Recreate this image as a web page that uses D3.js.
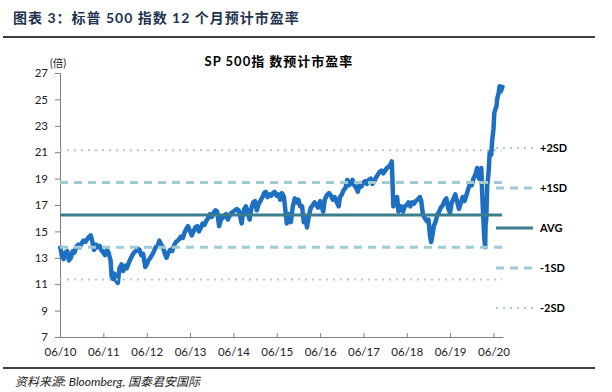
<!DOCTYPE html>
<html>
<head>
<meta charset="utf-8">
<script src="https://cdn.jsdelivr.net/npm/d3@7"></script>
<style>
  body { margin: 0; background: #fff; }
  svg { display: block; }
  text { font-family: Lato, "Noto Sans CJK SC", sans-serif; }
</style>
</head>
<body>
<div id="chart"></div>
<script>
// page texts
var pageTitle = "图表 3：标普 500 指数 12 个月预计市盈率";
var chartTitle = "SP 500指 数预计市盈率";
var unitLabel = "(倍)";
var sourceText = "资料来源: Bloomberg, 国泰君安国际";

// y ticks
var yTicks = [7, 9, 11, 13, 15, 17, 19, 21, 23, 25, 27];

// reference lines (avg and standard deviations)
var refNames = ["+2SD", "+1SD", "AVG", "-1SD", "-2SD"];
var refValues = [21.15, 18.7, 16.25, 13.8, 11.35];

// forward PE
var peDates = [
  "2010-06-01","2010-06-15","2010-07-01","2010-07-15","2010-08-01","2010-08-15","2010-09-01","2010-09-15","2010-10-01","2010-10-15","2010-11-01","2010-11-15","2010-12-01","2010-12-15",
  "2011-01-01","2011-01-15","2011-02-01","2011-02-15","2011-03-01","2011-03-15","2011-04-01","2011-04-15","2011-05-01","2011-05-15","2011-06-01","2011-06-15","2011-07-01","2011-07-15","2011-08-01","2011-08-10","2011-08-20","2011-09-01","2011-09-15","2011-10-01","2011-10-15","2011-11-01","2011-11-15","2011-12-01","2011-12-15",
  "2012-01-01","2012-01-15","2012-02-01","2012-02-15","2012-03-01","2012-03-15","2012-04-01","2012-04-15","2012-05-01","2012-05-20","2012-06-01","2012-06-15","2012-07-01","2012-07-15","2012-08-01","2012-08-15","2012-09-01","2012-09-15","2012-10-01","2012-10-15","2012-11-01","2012-11-15","2012-12-01","2012-12-15",
  "2013-01-01","2013-01-15","2013-02-01","2013-02-15","2013-03-01","2013-03-15","2013-04-01","2013-04-15","2013-05-01","2013-05-15","2013-06-01","2013-06-15","2013-07-01","2013-07-15","2013-08-01","2013-08-15","2013-09-01","2013-09-15","2013-10-01","2013-10-15","2013-11-01","2013-11-15","2013-12-01","2013-12-15",
  "2014-01-01","2014-01-15","2014-02-01","2014-02-10","2014-02-20","2014-03-01","2014-03-15","2014-04-01","2014-04-15","2014-05-01","2014-05-15","2014-06-01","2014-06-15","2014-07-01","2014-07-15","2014-08-01","2014-08-10","2014-08-20","2014-09-01","2014-09-15","2014-10-01","2014-10-15","2014-11-01","2014-11-15","2014-12-01","2014-12-15",
  "2015-01-01","2015-01-15","2015-02-01","2015-02-15","2015-03-01","2015-03-15","2015-04-01","2015-04-15","2015-05-01","2015-05-15","2015-06-01","2015-06-15","2015-07-01","2015-07-15","2015-08-01","2015-08-25","2015-09-01","2015-09-15","2015-09-28","2015-10-15","2015-11-01","2015-11-15","2015-12-01","2015-12-15",
  "2016-01-01","2016-01-15","2016-02-01","2016-02-11","2016-02-20","2016-03-01","2016-03-15","2016-04-01","2016-04-15","2016-05-01","2016-05-15","2016-06-01","2016-06-27","2016-07-10","2016-07-25","2016-08-01","2016-08-15","2016-09-01","2016-09-15","2016-10-01","2016-10-15","2016-11-04","2016-11-15","2016-12-01","2016-12-15",
  "2017-01-01","2017-01-15","2017-02-01","2017-02-15","2017-03-01","2017-03-15","2017-04-01","2017-04-15","2017-05-01","2017-05-15","2017-06-01","2017-06-15","2017-07-01","2017-07-15","2017-08-01","2017-08-15","2017-09-01","2017-09-15","2017-10-01","2017-10-15","2017-11-01","2017-11-15","2017-12-01","2017-12-15",
  "2018-01-01","2018-01-15","2018-01-26","2018-02-08","2018-02-15","2018-03-01","2018-03-12","2018-03-23","2018-04-01","2018-04-15","2018-05-01","2018-05-15","2018-06-01","2018-06-15","2018-07-01","2018-07-15","2018-08-01","2018-08-15","2018-09-01","2018-09-20","2018-10-01","2018-10-15","2018-11-01","2018-11-15","2018-12-01","2018-12-15","2018-12-24",
  "2019-01-01","2019-01-15","2019-02-01","2019-02-15","2019-03-01","2019-03-15","2019-04-01","2019-04-15","2019-05-01","2019-05-15","2019-06-01","2019-06-15","2019-07-01","2019-07-15","2019-08-01","2019-08-15","2019-09-01","2019-09-15","2019-10-01","2019-10-15","2019-11-01","2019-11-15","2019-12-01","2019-12-15",
  "2020-01-01","2020-01-15","2020-01-31","2020-02-10","2020-02-19","2020-02-28","2020-03-09","2020-03-16","2020-03-23","2020-03-26","2020-04-01","2020-04-09","2020-04-20","2020-04-30","2020-05-13","2020-05-20","2020-06-01","2020-06-08","2020-06-15","2020-06-26","2020-07-01","2020-07-15","2020-07-22","2020-07-31","2020-08-10","2020-08-18"
];
var peValues = [
  13.9,13.2,12.9,13.4,13.5,12.8,13.0,13.5,13.4,13.8,14.0,13.8,14.1,14.3,
  14.2,14.4,14.6,14.7,14.2,13.6,14.0,13.8,13.9,13.6,13.4,13.2,13.6,13.4,12.8,11.6,11.4,11.8,11.3,11.1,12.2,12.5,12.0,12.4,12.2,
  12.6,12.9,13.2,13.4,13.5,13.7,13.6,13.2,13.3,12.3,12.5,12.8,13.0,13.2,13.5,13.8,13.9,14.3,14.0,13.8,13.3,13.0,13.4,13.6,
  13.5,13.9,14.2,14.3,14.4,14.6,14.5,14.9,15.2,15.4,15.0,14.7,15.0,15.3,15.4,15.0,15.3,15.6,15.5,15.8,16.0,16.3,16.1,16.4,
  16.6,16.5,15.4,15.7,16.1,16.0,16.2,16.3,15.9,16.2,16.4,16.5,16.6,16.7,16.6,16.0,15.6,16.3,16.7,16.9,16.4,15.9,16.8,17.2,17.3,16.6,
  17.1,17.3,17.6,17.9,18.0,17.6,17.8,17.7,17.9,18.0,17.7,17.8,17.4,17.9,17.6,15.6,16.1,16.3,15.7,16.9,17.5,17.2,17.4,16.9,
  16.9,15.7,16.0,15.3,15.8,16.3,16.8,17.0,17.2,17.0,16.8,17.3,16.5,17.4,17.7,17.8,17.9,17.7,17.4,17.6,17.3,16.9,17.6,17.8,18.1,
  18.3,18.9,18.5,18.7,18.9,18.5,18.3,18.0,18.6,18.4,18.7,18.8,18.6,18.9,19.0,18.6,18.8,19.1,19.3,19.5,19.6,19.4,19.6,19.8,
  19.9,20.1,20.3,16.9,17.3,17.1,17.6,16.5,16.7,16.9,16.5,16.9,17.0,17.2,16.9,17.2,17.1,17.3,17.4,17.6,17.3,16.3,16.0,15.8,15.9,14.6,14.2,
  14.6,15.4,15.8,16.3,16.5,16.8,17.0,17.3,17.5,16.8,16.4,17.2,17.5,17.8,17.2,16.7,17.2,17.6,17.3,17.7,18.2,18.6,18.5,19.0,
  19.3,19.8,19.0,19.5,19.8,17.6,15.6,14.4,13.8,15.5,15.9,18.5,19.4,21.0,20.8,21.8,22.8,24.0,24.2,24.5,25.0,25.5,26.0,25.6,25.8,26.1
];

var W = 612, H = 392;
var svg = d3.select("#chart").append("svg")
    .attr("width", W)
    .attr("height", H);

var parse = d3.timeParse("%Y-%m-%d");
var series = peDates.map(function(d, i){ return {date: parse(d), pe: peValues[i]}; });

var x = d3.scaleTime()
    .domain([parse("2010-06-01"), parse("2020-08-20")])
    .range([60, 503]);
var y = d3.scaleLinear()
    .domain([7, 27])
    .range([337, 73]);

// header and footer
svg.append("text")
    .attr("x", 13).attr("y", 23)
    .attr("font-size", 14).attr("font-weight", "bold")
    .attr("letter-spacing", 1)
    .attr("fill", "#22344f")
    .text(pageTitle);
svg.append("line")
    .attr("x1", 3).attr("x2", 595).attr("y1", 37).attr("y2", 37)
    .attr("stroke", "#000").attr("stroke-width", 1.5);
svg.append("line")
    .attr("x1", 3).attr("x2", 595).attr("y1", 368).attr("y2", 368)
    .attr("stroke", "#000").attr("stroke-width", 1.5);
svg.append("text")
    .attr("x", 15).attr("y", 386)
    .attr("font-size", 12).attr("font-style", "italic")
    .attr("fill", "#222")
    .text(sourceText);

svg.append("text")
    .attr("x", 279).attr("y", 66)
    .attr("text-anchor", "middle")
    .attr("font-size", 13).attr("font-weight", "bold")
    .attr("letter-spacing", 1)
    .attr("fill", "#000")
    .text(chartTitle);
svg.append("text")
    .attr("x", 50).attr("y", 67)
    .attr("font-size", 10.5)
    .attr("fill", "#222")
    .text(unitLabel);

// axes
var yAxis = d3.axisLeft(y).tickValues(yTicks).tickSize(5).tickFormat(d3.format("d"));
var gy = svg.append("g").attr("transform", "translate(60,0)").call(yAxis);
gy.select(".domain").attr("stroke", "#808080");
gy.selectAll(".tick line").attr("stroke", "#808080");
gy.selectAll(".tick text")
    .attr("x", -12)
    .attr("font-family", "Lato, sans-serif")
    .attr("font-size", 11.5).attr("fill", "#222");

var xTicks = d3.range(2010, 2021).map(function(yr){ return new Date(yr, 5, 1); });
var xAxis = d3.axisBottom(x).tickValues(xTicks).tickSize(-4).tickSizeOuter(0).tickFormat(d3.timeFormat("%m/%y"));
var gx = svg.append("g").attr("transform", "translate(0,337)").call(xAxis);
gx.select(".domain").attr("stroke", "#808080");
gx.selectAll(".tick line").attr("stroke", "#808080");
gx.selectAll(".tick text")
    .attr("y", 11)
    .attr("font-family", "Lato, sans-serif")
    .attr("font-size", 11.5).attr("fill", "#222");

// PE line
var line = d3.line()
    .x(function(d){ return x(d.date); })
    .y(function(d){ return y(d.pe); });
svg.append("path")
    .datum(series)
    .attr("d", line)
    .attr("fill", "none")
    .attr("stroke", "#1d6fc2")
    .attr("stroke-width", 4.5)
    .attr("stroke-linejoin", "round");

// reference lines on top
var refStyles = [
  {color: "#b3c8d2", width: 2, dash: "2,5"},
  {color: "#9fcbd4", width: 3, dash: "8,6"},
  {color: "#3b7f8f", width: 3, dash: null},
  {color: "#9fcbd4", width: 3, dash: "8,6"},
  {color: "#b3c8d2", width: 2, dash: "2,5"}
];
refValues.forEach(function(v, i){
    var s = refStyles[i];
    svg.append("line")
        .attr("x1", 60).attr("x2", 502)
        .attr("y1", y(v)).attr("y2", y(v))
        .attr("stroke", s.color).attr("stroke-width", s.width)
        .attr("stroke-dasharray", s.dash);
    var ly = 148 + i * 40;
    svg.append("line")
        .attr("x1", 496).attr("x2", 533)
        .attr("y1", ly).attr("y2", ly)
        .attr("stroke", s.color).attr("stroke-width", s.width)
        .attr("stroke-dasharray", s.dash);
    svg.append("text")
        .attr("x", 540).attr("y", ly + 4)
        .attr("font-size", 11).attr("font-weight", "bold")
        .attr("fill", "#000")
        .text(refNames[i]);
});
</script>
</body>
</html>
